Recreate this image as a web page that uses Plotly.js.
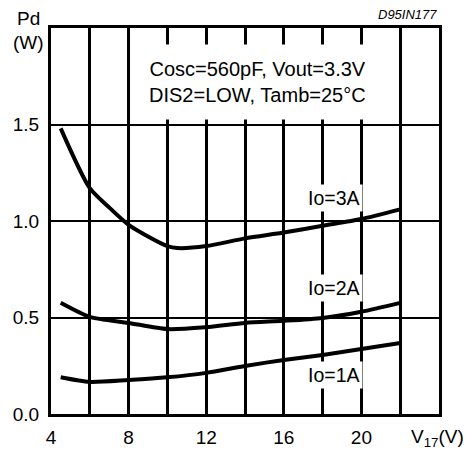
<!DOCTYPE html>
<html>
<head>
<meta charset="utf-8">
<script src="https://cdn.plot.ly/plotly-3.0.1.min.js"></script>
<style>html,body{margin:0;padding:0;background:#fff;}#chart{width:471px;height:449px;}</style>
</head>
<body>
<div id="chart"></div>
<script>
// Supply voltage V17 (V)
const x3A = [4.5, 6, 7, 8, 9, 10, 10.5, 12, 14, 16, 18, 20, 22];
const pd3A = [1.48, 1.17, 1.07, 0.98, 0.92, 0.87, 0.86, 0.87, 0.91, 0.94, 0.975, 1.01, 1.06];
const x2A = [4.5, 6, 8, 10, 12, 14, 16, 18, 20, 22];
const pd2A = [0.576, 0.503, 0.472, 0.44, 0.45, 0.472, 0.483, 0.498, 0.53, 0.576];
const x1A = [4.5, 6, 8, 10, 12, 14, 16, 18, 20, 22];
const pd1A = [0.19, 0.166, 0.176, 0.19, 0.213, 0.249, 0.28, 0.306, 0.337, 0.368];

const xTickVals = [4, 8, 12, 16, 20];
const xTickText = ["4", "8", "12", "16", "20"];
const xMinorVals = [6, 10, 14, 18, 22];
const yTickVals = [0, 0.5, 1.0, 1.5];
const yTickText = ["0.0", "0.5", "1.0", "1.5"];

const FONT = "Liberation Sans, Arial, Helvetica, sans-serif";
const lineStyle = {color: "#000", width: 4, shape: "spline", smoothing: 0.7};

const traces = [
  {x: x3A, y: pd3A, mode: "lines", line: lineStyle},
  {x: x2A, y: pd2A, mode: "lines", line: lineStyle},
  {x: x1A, y: pd1A, mode: "lines", line: lineStyle}
];

const layout = {
  width: 471, height: 449,
  margin: {l: 51, r: 32, t: 28, b: 35, pad: 0},
  paper_bgcolor: "#fff", plot_bgcolor: "#fff",
  showlegend: false,
  hovermode: false,
  font: {family: FONT, color: "#000", size: 19},
  xaxis: {
    range: [4, 24], tickmode: "array", tickvals: xTickVals, ticktext: xTickText,
    showgrid: true, gridcolor: "#000", gridwidth: 3,
    minor: {tickmode: "array", tickvals: xMinorVals, showgrid: true, gridcolor: "#000", gridwidth: 3, ticks: ""},
    showline: true, linecolor: "#000", linewidth: 3, mirror: true,
    zeroline: false, ticks: "", ticklabelstandoff: 4,
    tickfont: {family: FONT, size: 19, color: "#000"}
  },
  yaxis: {
    range: [0, 2.0], tickmode: "array", tickvals: yTickVals, ticktext: yTickText,
    showgrid: true, gridcolor: "#000", gridwidth: 2,
    showline: true, linecolor: "#000", linewidth: 3, mirror: true,
    zeroline: false, ticks: "", ticklabelstandoff: 5,
    tickfont: {family: FONT, size: 19, color: "#000"}
  },
  annotations: [
    {xref: "x", yref: "y", x: 14.62, y: 1.718, xanchor: "center", yanchor: "middle",
     text: "Cosc=560pF, Vout=3.3V<br>DIS2=LOW, Tamb=25°C", showarrow: false,
     bgcolor: "#fff", borderpad: 13, font: {family: FONT, size: 20, color: "#000"}},
    {xref: "x", yref: "y", x: 18.59, y: 1.121, xanchor: "center", yanchor: "middle",
     text: "Io=3A", showarrow: false, bgcolor: "#fff", borderpad: 2,
     font: {family: FONT, size: 19.5, color: "#000"}},
    {xref: "x", yref: "y", x: 18.59, y: 0.654, xanchor: "center", yanchor: "middle",
     text: "Io=2A", showarrow: false, bgcolor: "#fff", borderpad: 2,
     font: {family: FONT, size: 19.5, color: "#000"}},
    {xref: "x", yref: "y", x: 18.59, y: 0.202, xanchor: "center", yanchor: "middle",
     text: "Io=1A", showarrow: false, bgcolor: "#fff", borderpad: 2,
     font: {family: FONT, size: 19.5, color: "#000"}},
    {xref: "paper", yref: "paper", x: 1, y: 1, xanchor: "right", yanchor: "bottom", yshift: 4,
     text: "<i>D95IN177</i>", showarrow: false,
     font: {family: FONT, size: 13, color: "#000"}},
    {xref: "paper", yref: "paper", x: 0, y: 1, xanchor: "center", yanchor: "middle",
     xshift: -23, yshift: 10, text: "Pd", showarrow: false,
     font: {family: FONT, size: 19, color: "#000"}},
    {xref: "paper", yref: "paper", x: 0, y: 1, xanchor: "center", yanchor: "middle",
     xshift: -23, yshift: -14, text: "(W)", showarrow: false,
     font: {family: FONT, size: 19, color: "#000"}},
    {xref: "paper", yref: "paper", x: 1, y: 0, xanchor: "center", yanchor: "middle",
     xshift: -2, yshift: -24, text: "V<sub>17</sub>(V)", showarrow: false,
     font: {family: FONT, size: 19, color: "#000"}}
  ]
};

Plotly.newPlot("chart", traces, layout, {displayModeBar: false, staticPlot: true});
</script>
</body>
</html>
